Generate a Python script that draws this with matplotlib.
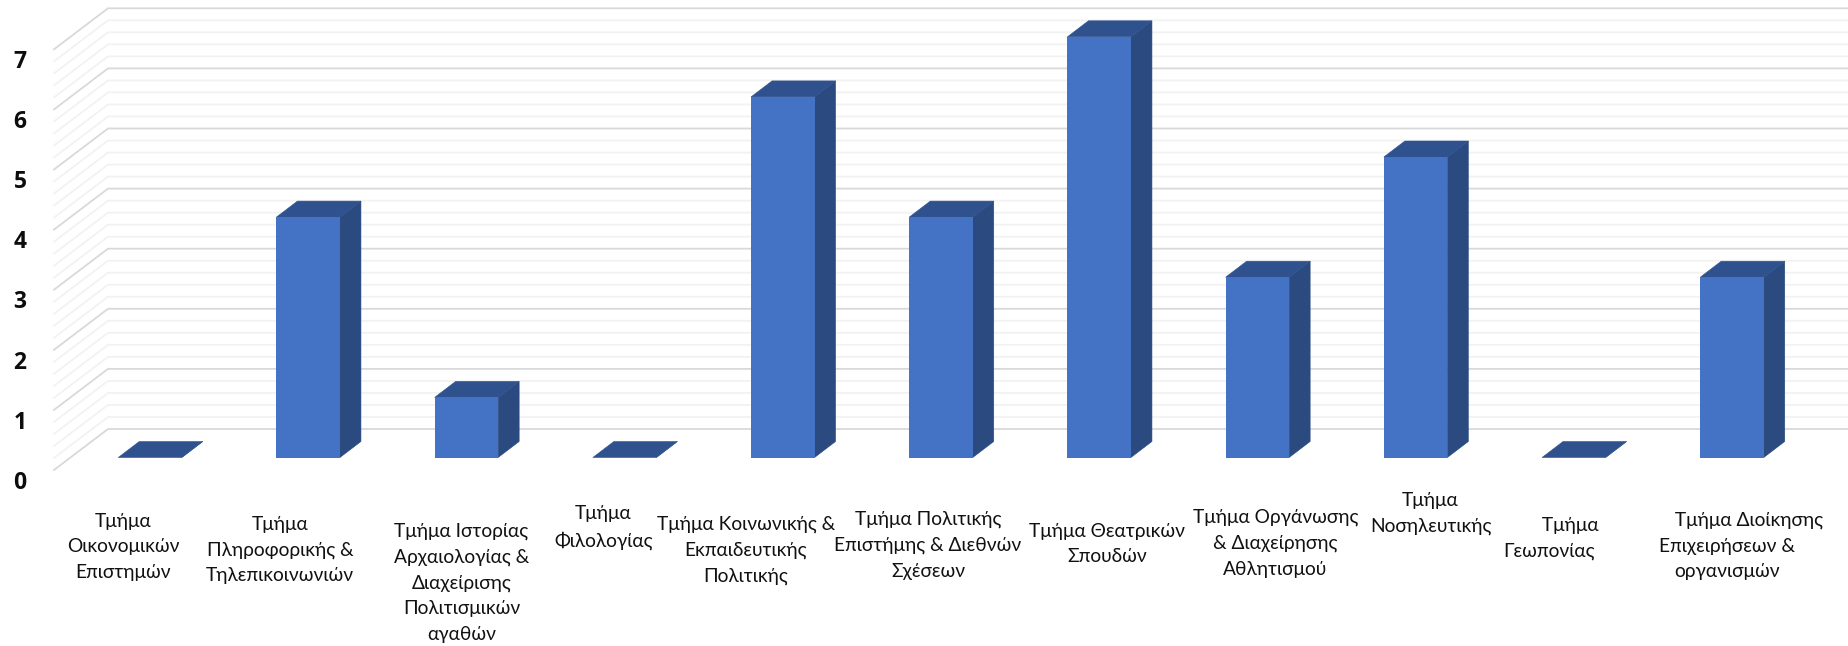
import matplotlib
matplotlib.use("Agg")
import matplotlib.pyplot as plt
from matplotlib.patches import Polygon

plt.rcParams["font.family"] = ["Lato", "Noto Sans", "DejaVu Sans"]

departments = [
    "Τμήμα\nΟικονομικών\nΕπιστημών",
    "Τμήμα\nΠληροφορικής &\nΤηλεπικοινωνιών",
    "Τμήμα Ιστορίας\nΑρχαιολογίας &\nΔιαχείρισης\nΠολιτισμικών\nαγαθών",
    "Τμήμα\nΦιλολογίας",
    "Τμήμα Κοινωνικής &\nΕκπαιδευτικής\nΠολιτικής",
    "Τμήμα Πολιτικής\nΕπιστήμης & Διεθνών\nΣχέσεων",
    "Τμήμα Θεατρικών\nΣπουδών",
    "Τμήμα Οργάνωσης\n& Διαχείρησης\nΑθλητισμού",
    "Τμήμα\nΝοσηλευτικής",
    "\u00a0\u00a0\u00a0\u00a0\u00a0\u00a0\u00a0\u00a0\u00a0Τμήμα\nΓεωπονίας",
    "\u00a0\u00a0\u00a0\u00a0\u00a0\u00a0\u00a0\u00a0\u00a0Τμήμα Διοίκησης\nΕπιχειρήσεων &\nοργανισμών",
]
values = [0, 4, 1, 0, 6, 4, 7, 3, 5, 0, 3]
y_ticks = [0, 1, 2, 3, 4, 5, 6, 7]

# label placement, pixels relative to the foot of each bar (full size image)
label_dx = [-27, -28, -5, -21, -37, -13, 8, 18, 15, -25, -5]
label_top = [513, 516, 523, 505, 516, 511, 523, 509, 492, 517, 512]

W, H = 1849, 646
X0, STEP = 150, 158.2  # px of first bar centre, px per category
Y0, UNIT = 457.5, 60.1  # px of value 0 on the bar front, px per value
BAR_W = 63.5 / STEP
BAR_DX, BAR_DY = 21 / STEP, 16 / UNIT

WALL_LEFT, WALL_BACK = (54 - X0) / STEP, (108 - X0) / STEP
FRONT_DY, BACK_DY = (Y0 - 470) / UNIT, (Y0 - 429) / UNIT

fig = plt.figure(figsize=(W / 100, H / 100), dpi=100)
ax = fig.add_axes([0, 0, 1, 1])
ax.set_xlim(-X0 / STEP, (W - X0) / STEP)
ax.set_ylim((Y0 - H) / UNIT, Y0 / UNIT)
ax.axis("off")

# walls: 4 minor lines between each pair of major lines
for v10 in range(0, 71, 2):
    v = v10 / 10
    major = v10 % 10 == 0
    color = "#D9D9D9" if major else "#F2F2F2"
    ax.plot(
        [WALL_LEFT, WALL_BACK, ax.get_xlim()[1]],
        [v + FRONT_DY, v + BACK_DY, v + BACK_DY],
        color=color,
        lw=1.3,
        solid_joinstyle="miter",
        zorder=1 if not major else 2,
    )

for i, val in enumerate(values):
    l, r = i - BAR_W / 2, i + BAR_W / 2
    ax.add_patch(Polygon(
        [(r, 0), (r + BAR_DX, BAR_DY), (r + BAR_DX, val + BAR_DY), (r, val)],
        fc="#2A4A80", ec="#2A4A80", lw=0.4, zorder=3,
    ))
    ax.add_patch(Polygon(
        [(l, val), (r, val), (r + BAR_DX, val + BAR_DY), (l + BAR_DX, val + BAR_DY)],
        fc="#2F528F", ec="#2F528F", lw=0.4, zorder=4,
    ))
    ax.bar(i, val, width=BAR_W, color="#4472C4", zorder=5)

    ax.annotate(
        departments[i],
        xy=(i, 0),
        xytext=(label_dx[i], Y0 - label_top[i]),
        textcoords="offset pixels",
        ha="center",
        va="top",
        multialignment="center",
        fontsize=13.8,
        color="#111111",
        linespacing=1.6,
        zorder=6,
    )

for t in y_ticks:
    ax.text((20 - X0) / STEP, t - 0.42, str(t), ha="center", va="center",
            fontsize=16.5, fontweight="bold", color="#0D0D0D", family="Open Sans")

fig.savefig("out.png", dpi=100)
plt.close(fig)
